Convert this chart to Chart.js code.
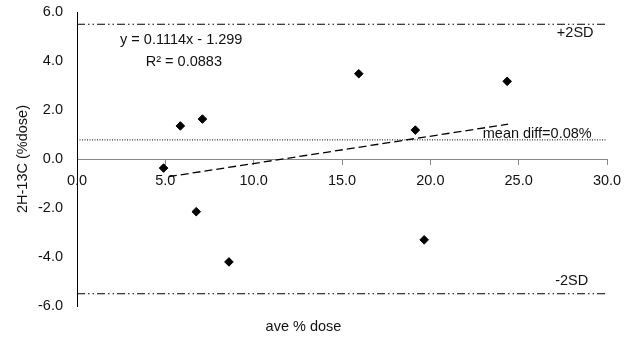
<!DOCTYPE html>
<html>
<head>
<meta charset="utf-8">
<script src="https://cdn.jsdelivr.net/npm/chart.js@4.4.1/dist/chart.umd.min.js"></script>
<style>
  html, body { margin: 0; padding: 0; background: #fff; }
  #wrap { width: 631px; height: 340px; }
</style>
</head>
<body>
<div id="wrap"><canvas id="blandAltman"></canvas></div>
<script>
// 数据：平均剂量 (x) 与差值 (y)
const aveDose = [4.9, 5.85, 7.1, 6.75, 8.6, 15.95, 19.15, 24.35, 19.65];
const diffDose = [-0.37, 1.35, 1.63, -2.15, -4.2, 3.48, 1.18, 3.17, -3.3];

// 趋势线两端
const trendX = [5.2, 24.4];
const trendY = [-0.72, 1.42];

// 参考线
const lineX = [0, 30];
const plus2SD = 5.5;
const minus2SD = -5.5;
const meanDiff = 0.78;

// 坐标轴刻度
const xTicks = [0, 5, 10, 15, 20, 25, 30];
const yTicks = [-6, -4, -2, 0, 2, 4, 6];

const FONT = "Liberation Sans, Arial, sans-serif";
const dashDotDot = [8, 3, 1.5, 3, 1.5, 3];

/** 在图上写注释文字 */
const notePlugin = {
  id: "notes",
  afterDatasetsDraw(chart) {
    const { ctx, scales } = chart;
    const xs = scales.x, ys = scales.y;
    ctx.save();
    ctx.fillStyle = "#111";
    ctx.font = "14.5px " + FONT;
    ctx.textBaseline = "middle";
    ctx.textAlign = "center";
    ctx.fillText("+2SD", xs.getPixelForValue(28.2), ys.getPixelForValue(plus2SD) + 9);
    ctx.fillText("-2SD", xs.getPixelForValue(28.0), ys.getPixelForValue(minus2SD) - 13);
    ctx.fillText("mean diff=0.08%", xs.getPixelForValue(26.05), ys.getPixelForValue(meanDiff) - 6);
    ctx.fillText("y = 0.1114x - 1.299", xs.getPixelForValue(5.9), ys.getPixelForValue(4.86));
    ctx.fillText("R\u00B2 = 0.0883", xs.getPixelForValue(6.05), ys.getPixelForValue(3.95));
    ctx.restore();
  }
};

function refLine(y, dash, width) {
  return {
    type: "line",
    data: lineX.map((x) => ({ x: x, y: y })),
    borderColor: "#000",
    borderWidth: width,
    borderDash: dash,
    pointRadius: 0,
    fill: false
  };
}

const ctx = document.getElementById("blandAltman").getContext("2d");
new Chart(ctx, {
  type: "scatter",
  data: {
    datasets: [
      refLine(plus2SD, dashDotDot, 1.2),
      refLine(minus2SD, dashDotDot, 1.2),
      refLine(meanDiff, [1, 1.5], 1),
      {
        type: "line",
        data: trendX.map((x, i) => ({ x: x, y: trendY[i] })),
        borderColor: "#000",
        borderWidth: 1.3,
        borderDash: [8, 4],
        pointRadius: 0,
        fill: false
      },
      {
        data: aveDose.map((x, i) => ({ x: x, y: diffDose[i] })),
        pointStyle: "rectRot",
        pointRadius: 4.3,
        backgroundColor: "#000",
        borderColor: "#000",
        borderWidth: 1
      }
    ]
  },
  options: {
    responsive: true,
    maintainAspectRatio: false,
    animation: false,
    layout: { padding: { top: 12, right: 24, bottom: 0, left: 0 } },
    plugins: {
      legend: { display: false },
      tooltip: { enabled: false },
      title: {
        display: true,
        position: "bottom",
        text: "ave % dose",
        color: "#111",
        font: { family: FONT, size: 14.5, weight: "normal" },
        padding: { top: 12.6, bottom: 4 }
      }
    },
    scales: {
      x: {
        type: "linear",
        position: { y: 0 },
        min: 0,
        max: 30,
        afterBuildTicks: (scale) => { scale.ticks = xTicks.map((v) => ({ value: v })); },
        afterFit: (scale) => {
          scale.height = 0;
          scale.paddingLeft = 0; scale.paddingRight = 0;
          scale.paddingTop = 0; scale.paddingBottom = 0;
        },
        ticks: {
          color: "#111",
          font: { family: FONT, size: 14.5 },
          padding: 8,
          maxRotation: 0,
          callback: (v) => Number(v).toFixed(1)
        },
        grid: { drawOnChartArea: false, drawTicks: true, tickLength: 5, color: "#888" },
        border: { display: true, color: "#888", width: 1 }
      },
      y: {
        type: "linear",
        min: -6,
        max: 6,
        afterBuildTicks: (scale) => { scale.ticks = yTicks.map((v) => ({ value: v })); },
        afterFit: (scale) => {
          scale.width = 77;
          scale.paddingTop = 0; scale.paddingBottom = 0;
        },
        ticks: {
          color: "#111",
          font: { family: FONT, size: 14.5 },
          padding: 14,
          callback: (v) => Number(v).toFixed(1)
        },
        grid: { drawOnChartArea: false, drawTicks: false },
        border: { display: true, color: "#000", width: 1 },
        title: {
          display: true,
          text: "2H-13C (%dose)",
          color: "#111",
          font: { family: FONT, size: 14.5 },
          padding: { top: 14, bottom: 0 }
        }
      }
    }
  },
  plugins: [notePlugin]
});
</script>
</body>
</html>
